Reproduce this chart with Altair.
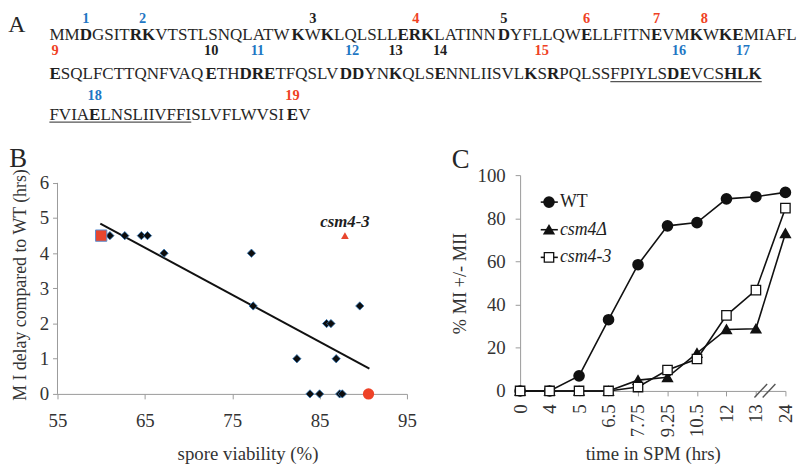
import json
import pandas as pd
import altair as alt

SERIF = "Liberation Serif"

# ---------------- Panel A data ----------------
seq_rows = [
    "MMDGSITRKVTSTLSNQLATWKWKLQLSLLERKLATINNDYFLLQWELLFITNEVMKWKEMIAFL",
    "ESQLFCTTQNFVAQETHDRETFQSLVDDYNKQLSENNLIISVLKSRPQLSSFPIYLSDEVCSHLK",
    "FVIAELNSLIIVFFISLVFLWVSIEV",
]
bold_sites = [
    [2, 7, 8, 21, 23, 30, 31, 32, 39, 46, 53, 56, 58, 59],
    [0, 14, 17, 18, 19, 26, 27, 30, 34, 43, 45, 57, 58, 62, 63, 64],
    [4, 24],
]
underline_row = [1, 2]
underline_first = [51, 0]
underline_last = [64, 14]

site_numbers = ["1", "2", "3", "4", "5", "6", "7", "8", "9", "10",
                "11", "12", "13", "14", "15", "16", "17", "18", "19"]
site_row = [0, 0, 0, 0, 0, 0, 0, 0, 1, 1, 1, 1, 1, 1, 1, 1, 1, 2, 2]
site_first = [2, 7, 21, 30, 39, 46, 53, 56, 0, 14, 17, 26, 30, 34, 43, 57, 62, 4, 24]
site_last = [2, 8, 23, 32, 39, 46, 53, 57, 0, 14, 19, 27, 30, 34, 45, 58, 64, 4, 24]
site_group = ["blue", "blue", "black", "red", "black", "red", "red", "red", "red", "black",
              "blue", "blue", "black", "black", "red", "blue", "blue", "blue", "red"]

# ---------------- Panel B data ----------------
diamond_viability = [61.0, 62.7, 64.6, 65.3, 67.2, 77.2, 77.4, 82.4, 83.9, 85.0,
                     85.8, 86.3, 86.9, 87.3, 87.6, 89.6]
diamond_delay = [4.5, 4.5, 4.5, 4.5, 4.0, 4.0, 2.5, 1.0, 0.0, 0.0,
                 2.0, 2.0, 1.0, 0.0, 0.0, 2.5]
square_viability = [60.0]
square_delay = [4.5]
circle_viability = [90.6]
circle_delay = [0.0]
csm43_viability = [87.9]
csm43_delay = [4.5]
csm43_label = ["csm4-3"]
trend_viability = [59.9, 90.7]
trend_delay = [4.84, 0.72]

# ---------------- Panel C data ----------------
times = ["0", "4", "5", "6.5", "7.75", "9.25", "10.5", "12", "13", "24"]
series_names = ["WT", "csm4\u0394", "csm4-3"]
wt_values = [0, 0, 7, 33, 58.5, 76.5, 78, 89, 90, 92]
csm4d_values = [0, 0, 0, 0, 5, 6.3, 17.5, 28.5, 28.8, 73]
csm43_values = [0, 0, 0, 0, 1.8, 9.7, 14.8, 35, 46.7, 84.7]

# ============ Panel A layout (Times metrics) ============
REG = dict(A=722, B=667, C=667, D=722, E=611, F=556, G=722, H=722, I=333, J=389, K=722,
           L=611, M=889, N=722, O=722, P=556, Q=722, R=667, S=556, T=611, U=722, V=722,
           W=944, X=722, Y=722, Z=611)
BLD = dict(A=722, B=667, C=722, D=722, E=667, F=611, G=778, H=778, I=389, J=500, K=778,
           L=667, M=944, N=722, O=778, P=611, Q=778, R=722, S=556, T=667, U=722, V=722,
           W=1000, X=722, Y=722, Z=667)
F_SEQ = 17.2
ORIGIN_X = 57.7   # page x of panel B plot left
SHIFT = 2.5       # top overflow of the first number row (moves the whole page down)
OY = 8.0 + SHIFT
X0 = 49.5 - ORIGIN_X
row_base = [38.0 - OY, 78.0 - OY, 119.0 - OY]
num_base = [10.5, 53.5 - OY, 99.5 - OY]

runs, cums = [], []
for r, s in enumerate(seq_rows):
    bset = set(bold_sites[r])
    x = X0
    cum = [x]
    cur = None
    for i, ch in enumerate(s):
        b = i in bset
        if cur is not None and cur["bold"] == b:
            cur["text"] += ch
        else:
            cur = {"text": ch, "bold": b, "px": x, "py": row_base[r]}
            runs.append(cur)
        x += (BLD if b else REG)[ch] / 1000.0 * F_SEQ
        cum.append(x)
    cums.append(cum)
runs_df = pd.DataFrame(runs)

num_df = pd.DataFrame({
    "label": site_numbers,
    "group": site_group,
    "px": [(cums[r][a] + cums[r][b + 1]) / 2 for r, a, b in zip(site_row, site_first, site_last)],
    "py": [num_base[r] for r in site_row],
})
ul_df = pd.DataFrame({
    "px": [cums[r][a] for r, a in zip(underline_row, underline_first)],
    "px2": [cums[r][b + 1] for r, b in zip(underline_row, underline_last)],
    "py": [row_base[r] + 2.5 for r in underline_row],
})

PX = alt.X("px:Q", scale=None, axis=None)
PY = alt.Y("py:Q", scale=None, axis=None)

seq_normal = alt.Chart(runs_df).transform_filter("!datum.bold").mark_text(
    align="left", baseline="alphabetic", font=SERIF, fontSize=F_SEQ, color="#262626"
).encode(x=PX, y=PY, text="text:N")
seq_bold = alt.Chart(runs_df).transform_filter("datum.bold").mark_text(
    align="left", baseline="alphabetic", font=SERIF, fontSize=F_SEQ, fontWeight="bold",
    color="#1e1e1e"
).encode(x=PX, y=PY, text="text:N")
nums = alt.Chart(num_df).mark_text(
    align="center", baseline="alphabetic", font=SERIF, fontSize=14.5, fontWeight="bold"
).encode(
    x=PX, y=PY, text="label:N",
    color=alt.Color("group:N", scale=alt.Scale(domain=["blue", "red", "black"],
                                               range=["#1f77c4", "#ef4123", "#1e1e1e"]),
                    legend=None),
)
ulines = alt.Chart(ul_df).mark_rule(color="#555555", strokeWidth=1.4).encode(
    x=PX, x2="px2:Q", y=PY
)


def panel_letter(t, x, py, size):
    return alt.Chart(pd.DataFrame({"t": [t]})).mark_text(
        align="left", baseline="alphabetic", font=SERIF, fontSize=size, color="#262626"
    ).encode(x=alt.value(x - ORIGIN_X), y=alt.value(py), text="t:N")


panelA = alt.layer(
    seq_normal, seq_bold, nums, ulines,
    panel_letter("A", 8, 19.5, 24),
    panel_letter("B", 9, 167 - OY, 27),
    panel_letter("C", 456, 168 - OY, 27),
).properties(width=735, height=160)

# ============ Panel B ============
B_TOP = 6.22
axB_x = alt.Axis(values=[55, 65, 75, 85, 95], title="spore viability (%)", tickSize=5,
                 labelPadding=13, labelFontSize=19, titleFontSize=19, titlePadding=14,
                 titleX=192, labelOverlap=False, labelFlush=False)
axB_y = alt.Axis(values=[0, 1, 2, 3, 4, 5, 6], title="M I delay compared to WT (hrs)",
                 tickSize=5, labelPadding=4, labelFontSize=19, titleFontSize=18,
                 titlePadding=10, domain=False, labelOverlap=False, labelFlush=False)
XB = alt.X("sv:Q", scale=alt.Scale(domain=[55, 95], nice=False, zero=False), axis=axB_x)
YB = alt.Y("delay:Q", scale=alt.Scale(domain=[0, B_TOP], nice=False), axis=axB_y)

trend = alt.Chart(pd.DataFrame({"sv": trend_viability, "delay": trend_delay})).mark_line(
    color="#111111", strokeWidth=2
).encode(x=XB, y=YB)
# y axis line drawn only up to the top tick (6)
y_axis_line = alt.Chart(pd.DataFrame({"sv": [55], "delay": [0], "delay2": [6]})).mark_rule(
    color="#9a9a9a").encode(x=XB, y=YB, y2="delay2:Q")
diamonds = alt.Chart(pd.DataFrame({"sv": diamond_viability, "delay": diamond_delay})).mark_point(
    shape="diamond", filled=True, fill="#0d0d0d", stroke="#2e75b6", strokeWidth=0.8,
    size=70, opacity=1
).encode(x=XB, y=YB)
square = alt.Chart(pd.DataFrame({"sv": square_viability, "delay": square_delay})).mark_point(
    shape="square", filled=True, fill="#e8462e", stroke="#5b8fd0", strokeWidth=1,
    size=130, opacity=1
).encode(x=XB, y=YB)
circle = alt.Chart(pd.DataFrame({"sv": circle_viability, "delay": circle_delay})).mark_point(
    shape="circle", filled=True, fill="#ee4227", size=130, opacity=1
).encode(x=XB, y=YB)
csm_df = pd.DataFrame({"sv": csm43_viability, "delay": csm43_delay, "lab": csm43_label})
tri = alt.Chart(csm_df).mark_point(
    shape="triangle-up", filled=True, fill="#e8462e", size=60, opacity=1
).encode(x=XB, y=YB)
tri_lab = alt.Chart(csm_df).mark_text(
    font=SERIF, fontSize=17, fontWeight="bold", fontStyle="italic", baseline="alphabetic",
    align="center", dy=-9, color="#1e1e1e"
).encode(x=XB, y=YB, text="lab:N")

panelB = alt.layer(trend, y_axis_line, diamonds, square, circle, tri, tri_lab).properties(
    width=353, height=221)

# ============ Panel C ============
rows = []
for name, vals in zip(series_names, [wt_values, csm4d_values, csm43_values]):
    for i, v in enumerate(vals):
        rows.append({"series": name, "idx": i, "pct": v})
c_df = pd.DataFrame(rows)

axC_x = alt.Axis(values=list(range(len(times))), labelExpr=f"{json.dumps(times)}[datum.value]",
                 labelAngle=270, labelAlign="right", labelBaseline="middle",
                 title="time in SPM (hrs)", tickSize=5, labelPadding=8, labelFontSize=19,
                 titleFontSize=19, titlePadding=8, labelOverlap=False, labelFlush=False)
axC_y = alt.Axis(values=[0, 20, 40, 60, 80, 100], title="% MI +/- MII", tickSize=5,
                 labelPadding=10, labelFontSize=19, titleFontSize=18.5, titlePadding=8,
                 labelOverlap=False, labelFlush=False)
XC = alt.X("idx:Q", scale=alt.Scale(domain=[0, len(times) - 1], nice=False), axis=axC_x)
YC = alt.Y("pct:Q", scale=alt.Scale(domain=[0, 100], nice=False), axis=axC_y)

styles = {
    "WT": dict(shape="circle", filled=True, fill="#111111", stroke="#111111", size=95),
    "csm4\u0394": dict(shape="triangle-up", filled=True, fill="#111111", stroke="#111111", size=80),
    "csm4-3": dict(shape="square", filled=True, fill="white", stroke="#111111",
                   strokeWidth=1.3, size=90),
}

# legend (manual, so that only the mutant names are italic)
legend_df = pd.DataFrame({"series": series_names})
legend_df["pct"] = [87.5 - 12.8 * i for i in range(len(series_names))]
legend_df["idx"] = 0.98
legend_df["italic"] = [n != "WT" for n in series_names]
legend_line_df = legend_df.copy()
legend_line_df["idx"] = 0.70
legend_line_df["idx2"] = 1.28

layersC = []
for name in series_names:
    sub = c_df[c_df.series == name]
    layersC.append(alt.Chart(sub).mark_line(color="#111111", strokeWidth=1.6).encode(x=XC, y=YC))
for name in series_names:
    sub = c_df[c_df.series == name]
    layersC.append(alt.Chart(sub).mark_point(opacity=1, **styles[name]).encode(x=XC, y=YC))
layersC.append(alt.Chart(legend_line_df).mark_rule(color="#111111", strokeWidth=1.6).encode(
    x=XC, x2="idx2:Q", y=YC))
for name in series_names:
    sub = legend_df[legend_df.series == name]
    layersC.append(alt.Chart(sub).mark_point(opacity=1, **styles[name]).encode(x=XC, y=YC))
layersC.append(alt.Chart(legend_df).transform_filter("!datum.italic").mark_text(
    font=SERIF, fontSize=18, align="left", baseline="middle", dx=11, color="#1e1e1e"
).encode(x=XC, y=YC, text="series:N"))
layersC.append(alt.Chart(legend_df).transform_filter("datum.italic").mark_text(
    font=SERIF, fontSize=18, fontStyle="italic", align="left", baseline="middle", dx=11,
    color="#1e1e1e"
).encode(x=XC, y=YC, text="series:N"))
# axis break marks between 13 and 24
brk_df = pd.DataFrame({"idx": [7.95, 8.23], "idx2": [8.38, 8.66],
                       "pct": [-3.0, -3.0], "pct2": [3.2, 3.2]})
layersC.append(alt.Chart(brk_df).mark_rule(color="#555555", strokeWidth=1.4).encode(
    x=XC, x2="idx2:Q", y=YC, y2="pct2:Q"))

panelC = alt.layer(*layersC).properties(width=268, height=218)

row = alt.hconcat(panelB, panelC, spacing=114.3, bounds="flush")
chart = alt.vconcat(panelA, row, spacing=7 - SHIFT, bounds="flush").properties(
    padding=0
).configure_view(stroke=None).configure_axis(
    grid=False, labelFont=SERIF, titleFont=SERIF, domainColor="#9a9a9a",
    tickColor="#9a9a9a", labelColor="#333333", titleColor="#333333",
    titleFontWeight="normal", labelOverlap=False, labelFlush=False
)

chart.save("out.html", embed_options={"renderer": "svg", "actions": False})
